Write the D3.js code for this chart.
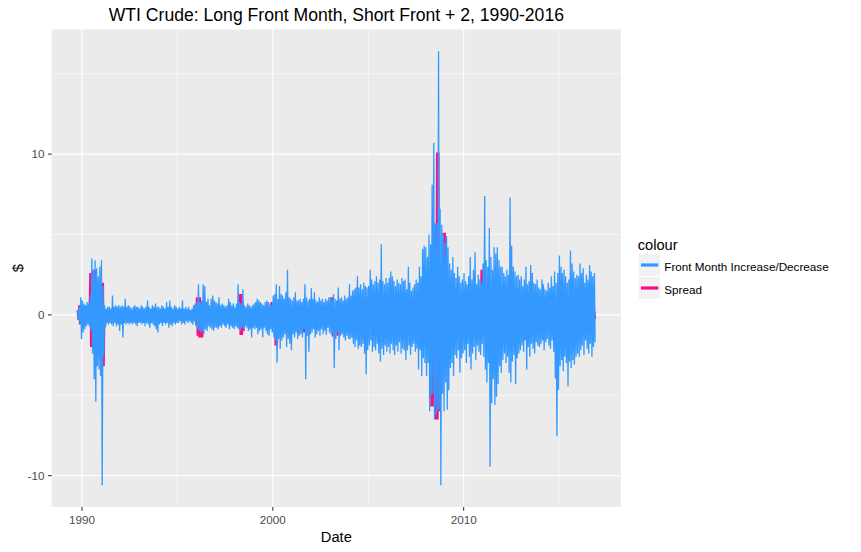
<!DOCTYPE html>
<html><head><meta charset="utf-8">
<script src="https://cdn.jsdelivr.net/npm/d3@7"></script>
<style>
body{margin:0;background:#fff}
svg{display:block}
text{font-family:"Liberation Sans",Arial,Helvetica,sans-serif}
</style>
</head><body>
<svg id="chart" width="861" height="552"></svg>
<script>
// ---------- data (monthly high / low of the daily series, $) ----------
const titleText = "WTI Crude: Long Front Month, Short Front + 2, 1990-2016";
const xTitle = "Date";
const yTitle = "$";
const legendTitle = "colour";
const seriesNames = ["Front Month Increase/Decrease", "Spread"];
const seriesColors = ["#3399FF", "#FF0A80"];
const xTickYears = [1990, 2000, 2010];
const xMinorYears = [1995, 2005, 2015];
const yTicks = [-10, 0, 10];
const yMinorTicks = [-5, 5, 15];
const firstMonth = new Date(1989, 9, 1);   // Oct 1989
const endMonth = new Date(2016, 11, 1);    // through Nov 2016

const frontHigh = [
  0.3, 0.5, 1.1,
  0.9, 0.7, 0.6, 0.8, 0.7, 1.2, 3.5, 2.8, 3.4, 2.9, 2.4, 3.0,
  3.4, 1.8, 0.6, 0.4, 0.5, 0.5, 0.4, 1.2, 0.5, 0.6, 0.5, 0.6,
  0.5, 0.6, 0.5, 1.0, 0.5, 0.6, 0.5, 0.4, 0.5, 0.6, 0.5, 0.5,
  0.4, 0.6, 0.5, 0.4, 0.5, 0.9, 0.5, 0.4, 0.6, 0.5, 0.7, 0.5,
  0.5, 0.4, 0.6, 0.5, 0.4, 0.8, 0.5, 0.9, 0.5, 0.4, 0.6, 0.5,
  0.4, 0.5, 0.4, 0.9, 0.4, 0.5, 0.4, 0.5, 0.3, 0.4, 0.6, 0.7,
  0.8, 1.9, 0.8, 0.9, 1.9, 1.8, 0.8, 1.0, 0.6, 1.0, 1.2, 0.9,
  0.8, 0.7, 1.1, 0.6, 0.7, 0.6, 0.5, 0.6, 1.0, 0.8, 0.6, 0.7,
  0.5, 0.7, 1.9, 0.8, 0.7, 1.6, 0.6, 0.5, 0.7, 0.6, 0.5, 0.6,
  0.7, 0.8, 1.0, 0.9, 0.8, 0.7, 0.6, 0.8, 0.9, 0.8, 0.7, 0.6,
  1.2, 1.3, 1.9, 1.0, 1.8, 1.3, 1.2, 1.0, 1.4, 2.8, 1.1, 1.0,
  0.9, 1.1, 1.4, 0.9, 0.9, 1.0, 0.8, 1.0, 1.9, 1.1, 0.9, 1.0,
  1.65, 1.0, 1.4, 0.9, 0.8, 1.1, 0.9, 1.0, 0.8, 1.0, 0.9, 1.1,
  1.1, 1.0, 1.3, 1.0, 0.9, 1.7, 1.0, 1.1, 0.9, 1.2, 1.0, 1.1,
  1.9, 1.2, 1.5, 1.6, 1.7, 2.4, 1.7, 1.9, 1.6, 2.0, 1.8, 1.7,
  1.8, 2.8, 2.2, 1.9, 2.1, 2.4, 2.0, 2.2, 4.4, 2.1, 1.9, 2.3,
  2.0, 2.3, 2.7, 2.4, 2.1, 1.8, 2.2, 2.0, 1.9, 2.3, 2.1, 2.2,
  1.6, 3.0, 2.0, 1.5, 1.7, 1.9, 2.2, 2.0, 3.0, 2.4, 4.1, 4.3,
  4.2, 3.6, 5.0, 4.4, 8.1, 10.7, 5.7, 5.7, 16.4, 6.6, 5.6, 5.0,
  4.5, 4.9, 4.2, 3.2, 2.8, 3.6, 2.6, 2.3, 3.0, 2.4, 2.0, 2.2,
  2.6, 2.1, 1.9, 2.4, 3.6, 2.2, 2.8, 3.9, 1.9, 2.5, 2.2, 2.0,
  3.2, 7.4, 3.4, 3.0, 5.4, 3.6, 2.8, 4.2, 3.8, 4.2, 3.4, 3.0,
  3.0, 2.6, 2.4, 2.8, 2.5, 7.3, 4.3, 3.0, 2.7, 2.4, 2.5, 2.2,
  2.4, 1.8, 2.2, 3.0, 1.9, 2.1, 3.1, 2.6, 2.0, 1.9, 2.2, 1.7,
  1.6, 2.2, 1.9, 1.6, 1.5, 2.0, 1.7, 2.4, 1.8, 2.7, 2.0, 2.6,
  3.7, 3.0, 2.6, 2.8, 2.4, 2.0, 2.2, 4.0, 3.2, 2.7, 2.3, 2.5,
  2.4, 3.2, 2.6, 2.9, 2.0, 2.5, 2.2, 3.1, 2.7, 2.4, 2.6
];
const frontLow = [
  -0.3, -0.5, -1.5,
  -1.1, -0.9, -0.7, -0.6, -0.7, -1.0, -2.4, -4.0, -5.4, -3.2, -3.4, -3.8,
  -10.6, -2.5, -0.8, -0.5, -0.6, -0.5, -0.6, -0.7, -0.5, -0.7, -0.6, -1.0,
  -0.6, -1.4, -0.5, -0.6, -0.5, -0.6, -0.5, -0.6, -0.5, -0.6, -0.7, -0.5,
  -0.5, -0.6, -0.5, -0.7, -0.5, -0.6, -0.8, -0.5, -0.6, -0.7, -0.9, -1.1,
  -0.6, -0.5, -0.7, -0.5, -0.6, -0.5, -0.8, -0.6, -0.7, -0.5, -0.6, -0.5,
  -0.5, -0.4, -0.6, -0.5, -0.6, -0.4, -0.5, -0.4, -0.5, -0.6, -0.4, -0.7,
  -0.9, -1.0, -1.1, -1.0, -1.2, -0.9, -1.0, -0.7, -0.8, -0.9, -1.0, -0.8,
  -0.8, -0.9, -0.7, -0.8, -0.6, -0.7, -0.8, -0.6, -0.9, -0.7, -0.8, -0.9,
  -0.7, -0.8, -0.9, -1.0, -0.8, -0.9, -0.7, -0.8, -1.0, -0.9, -1.4, -0.8,
  -0.9, -0.8, -1.2, -1.0, -0.9, -1.4, -0.8, -1.0, -1.2, -1.3, -0.9, -1.1,
  -1.4, -1.6, -2.96, -1.5, -2.1, -1.6, -1.4, -1.2, -2.0, -1.5, -1.8, -2.2,
  -1.2, -1.4, -1.1, -1.5, -1.3, -1.2, -1.4, -0.9, -4.0, -1.3, -2.3, -1.2,
  -1.1, -0.9, -1.4, -1.2, -1.0, -1.3, -0.9, -1.2, -1.0, -1.25, -0.8, -1.1,
  -1.2, -1.2, -3.3, -1.5, -1.1, -2.2, -1.3, -1.2, -1.4, -1.6, -1.3, -1.5,
  -1.5, -1.4, -1.8, -2.0, -1.6, -2.1, -1.9, -2.0, -1.8, -2.4, -3.7, -2.2,
  -1.9, -1.6, -2.3, -2.0, -2.2, -1.8, -2.4, -2.9, -2.1, -2.5, -1.9, -2.3,
  -2.0, -2.4, -1.8, -2.2, -2.5, -1.9, -2.3, -1.7, -2.4, -2.1, -2.2, -2.8,
  -2.2, -1.9, -2.5, -2.0, -1.8, -2.3, -2.1, -3.4, -2.2, -3.8, -2.7, -3.0,
  -3.8, -3.0, -6.0, -5.0, -4.9, -6.5, -6.2, -6.0, -5.9, -10.6, -4.9, -6.0,
  -4.2, -5.9, -4.7, -3.3, -3.0, -3.8, -2.5, -2.7, -2.2, -3.6, -2.7, -2.4,
  -2.2, -3.0, -1.8, -2.6, -3.4, -2.4, -2.0, -2.8, -1.9, -2.3, -2.5, -1.8,
  -2.6, -3.4, -4.2, -3.0, -9.45, -5.5, -4.0, -5.6, -5.1, -4.3, -3.2, -3.6,
  -2.8, -2.4, -3.0, -2.6, -3.6, -4.2, -2.9, -2.5, -4.3, -2.7, -2.4, -2.2,
  -1.9, -2.3, -1.6, -3.4, -2.0, -2.6, -1.8, -2.1, -2.4, -1.7, -1.9, -2.0,
  -1.8, -1.6, -2.2, -1.7, -1.5, -1.9, -2.1, -1.6, -2.3, -3.95, -7.55, -4.65,
  -3.2, -2.8, -3.5, -2.6, -3.0, -4.45, -2.9, -3.3, -2.8, -3.1, -2.6, -2.4,
  -2.6, -2.2, -1.9, -2.5, -1.6, -2.1, -2.4, -1.8, -2.6, -2.0, -1.7
];
const spreadHigh = [
  0.3, 0.6, 0.3,
  0.2, 0.2, 0.2, 0.2, 0.2, 2.6, 2.6, 2.8, 2.8, 2.2, 1.5, 1.8,
  2.0, 2.0, 0.3, 0.2, 0.2, 0.2, 0.2, 0.2, 0.2, 0.2, 0.2, 0.2,
  0.2, 0.2, 0.2, 0.2, 0.2, 0.2, 0.2, 0.2, 0.2, 0.2, 0.2, 0.2,
  0.2, 0.2, 0.2, 0.2, 0.2, 0.2, 0.2, 0.2, 0.2, 0.2, 0.2, 0.2,
  0.2, 0.2, 0.2, 0.2, 0.2, 0.2, 0.2, 0.2, 0.2, 0.2, 0.2, 0.2,
  0.2, 0.2, 0.2, 0.2, 0.2, 0.2, 0.2, 0.2, 0.2, 0.2, 0.2, 0.6,
  1.1, 1.1, 1.1, 0.6, 0.2, 0.2, 0.8, 0.2, 0.2, 0.2, 0.2, 0.2,
  0.2, 0.2, 0.2, 0.2, 0.2, 0.2, 0.2, 0.2, 0.2, 0.2, 0.2, 0.2,
  0.2, 0.2, 0.2, 1.3, 1.3, 0.8, 0.2, 0.2, 0.2, 0.2, 0.2, 0.2,
  0.2, 0.2, 0.2, 0.2, 0.2, 0.2, 0.2, 0.2, 0.2, 0.2, 0.2, 0.8,
  0.3, 0.3, 0.3, 0.2, 0.2, 0.2, 0.2, 0.2, 0.2, 0.2, 0.2, 0.2,
  0.2, 0.2, 0.2, 0.2, 0.2, 0.2, 0.2, 0.2, 0.2, 0.2, 0.2, 0.2,
  0.2, 0.2, 0.2, 0.2, 0.2, 0.2, 0.2, 0.2, 0.2, 0.2, 0.2, 0.2,
  0.2, 1.1, 0.2, 0.2, 0.2, 0.2, 0.2, 0.2, 0.2, 0.2, 0.2, 0.2,
  0.3, 0.3, 0.3, 0.3, 0.3, 0.3, 0.3, 0.3, 0.3, 0.3, 0.3, 0.3,
  0.3, 0.3, 0.3, 0.3, 0.3, 0.3, 0.3, 0.3, 0.3, 0.3, 0.3, 0.3,
  0.3, 0.3, 0.3, 0.3, 0.3, 0.3, 0.3, 0.3, 0.3, 0.3, 0.3, 0.3,
  0.3, 0.3, 0.3, 0.3, 0.3, 0.3, 0.3, 0.3, 0.3, 0.3, 0.3, 0.3,
  0.3, 0.3, 0.3, 0.3, 0.5, 0.5, 0.5, 10.1, 10.1, 3.0, 2.0, 5.1,
  5.1, 0.5, 0.3, 0.3, 0.3, 0.3, 0.3, 0.3, 0.3, 0.3, 0.3, 0.3,
  0.3, 0.3, 0.3, 0.3, 0.3, 0.3, 0.3, 0.3, 0.3, 0.3, 0.3, 2.8,
  2.8, 0.3, 0.3, 0.3, 0.3, 0.3, 0.3, 0.3, 0.3, 0.3, 0.3, 0.3,
  0.3, 0.3, 0.3, 0.3, 0.3, 0.3, 0.3, 0.3, 0.3, 0.3, 0.3, 0.3,
  0.3, 0.3, 0.3, 0.3, 0.3, 0.3, 0.3, 0.3, 0.3, 0.3, 0.3, 0.3,
  0.3, 0.3, 0.3, 0.3, 0.3, 0.3, 0.3, 0.3, 0.3, 0.3, 0.3, 0.3,
  0.3, 0.3, 0.3, 0.3, 0.3, 0.3, 0.3, 0.3, 0.3, 0.3, 0.3, 0.3,
  0.3, 0.3, 0.3, 0.3, 0.3, 0.3, 0.3, 0.3, 0.3, 0.3, 0.25
];
const spreadLow = [
  -0.3, -0.6, -0.3,
  -0.2, -0.2, -0.2, -0.2, -0.2, -2.0, -2.0, -1.8, -2.0, -2.6, -2.4, -2.6,
  -3.2, -3.2, -0.7, -0.2, -0.2, -0.2, -0.2, -0.2, -0.2, -0.2, -0.2, -0.2,
  -0.2, -0.2, -0.2, -0.2, -0.2, -0.2, -0.2, -0.2, -0.2, -0.2, -0.2, -0.2,
  -0.2, -0.2, -0.2, -0.2, -0.2, -0.2, -0.2, -0.2, -0.2, -0.2, -0.2, -0.2,
  -0.2, -0.2, -0.2, -0.2, -0.2, -0.2, -0.2, -0.2, -0.2, -0.2, -0.2, -0.2,
  -0.2, -0.2, -0.2, -0.2, -0.2, -0.2, -0.2, -0.2, -0.2, -0.2, -0.2, -0.6,
  -1.3, -1.4, -1.4, -1.4, -0.2, -0.2, -0.5, -0.2, -0.2, -0.2, -0.2, -0.2,
  -0.2, -0.2, -0.2, -0.2, -0.2, -0.2, -0.2, -0.2, -0.2, -0.2, -0.2, -0.2,
  -0.2, -0.2, -0.2, -1.25, -1.25, -1.0, -0.2, -0.2, -0.2, -0.2, -0.2, -0.2,
  -0.2, -0.2, -0.2, -0.2, -0.2, -0.2, -0.2, -0.2, -0.2, -0.2, -0.2, -0.3,
  -0.2, -1.9, -1.9, -0.2, -0.2, -0.2, -0.2, -0.2, -0.2, -0.2, -0.2, -0.2,
  -0.2, -0.2, -0.2, -0.2, -0.2, -0.2, -0.2, -1.1, -0.2, -0.2, -0.2, -0.2,
  -0.2, -0.2, -0.7, -0.2, -0.2, -0.2, -0.2, -0.2, -0.2, -0.2, -0.2, -0.2,
  -0.2, -1.35, -0.2, -0.2, -1.3, -0.2, -0.2, -0.2, -0.2, -0.2, -0.2, -0.2,
  -0.3, -0.3, -0.3, -0.3, -0.3, -0.3, -0.3, -0.3, -0.3, -0.3, -0.3, -0.3,
  -0.3, -0.3, -0.3, -0.3, -0.3, -0.3, -0.3, -0.3, -0.3, -0.3, -0.3, -0.3,
  -0.3, -0.3, -0.3, -0.3, -0.3, -0.3, -0.3, -0.3, -0.3, -0.3, -0.3, -0.3,
  -0.3, -0.3, -0.3, -0.3, -0.3, -0.3, -0.3, -0.3, -0.3, -0.3, -0.3, -0.3,
  -0.5, -0.5, -2.0, -5.7, -5.7, -5.0, -6.5, -6.5, -6.0, -2.0, -1.0, -1.0,
  -1.0, -0.5, -0.3, -0.3, -0.3, -0.3, -0.3, -0.3, -0.3, -0.3, -0.3, -0.3,
  -0.3, -0.3, -0.3, -0.3, -0.3, -0.3, -0.3, -0.3, -0.3, -0.3, -0.3, -0.3,
  -0.3, -0.3, -0.3, -0.3, -0.3, -0.3, -0.3, -0.3, -0.3, -0.3, -0.3, -0.3,
  -0.3, -0.3, -0.3, -0.3, -0.3, -0.3, -0.3, -0.3, -0.3, -0.3, -0.3, -0.3,
  -0.3, -0.3, -0.3, -0.3, -0.3, -0.3, -0.3, -0.3, -0.3, -0.3, -0.3, -0.3,
  -0.3, -0.3, -0.3, -0.3, -0.3, -0.3, -0.3, -0.3, -0.3, -0.3, -0.3, -0.3,
  -0.3, -0.3, -0.3, -0.3, -0.3, -0.3, -0.3, -0.3, -0.3, -0.3, -0.3, -0.3,
  -0.3, -0.3, -0.3, -0.3, -0.3, -0.3, -0.3, -0.3, -0.3, -0.3, -0.25
];

// ---------- layout ----------
const panel = {left: 51.7, right: 621, top: 29.5, bottom: 507};
const svg = d3.select("#chart");

const months = d3.timeMonth.range(firstMonth, endMonth);
function zigzag(hi, lo) {
  const pts = [];
  months.forEach((m, i) => {
    pts.push({date: d3.timeDay.offset(m, 7), v: hi[i]});
    pts.push({date: d3.timeDay.offset(m, 21), v: lo[i]});
  });
  return pts;
}
const frontPts = zigzag(frontHigh, frontLow);
const spreadPts = zigzag(spreadHigh, spreadLow);
const allPts = frontPts.concat(spreadPts);

// ggplot-style 5% expansion
const xExt = d3.extent(allPts, d => +d.date);
const xPad = (xExt[1] - xExt[0]) * 0.05;
const x = d3.scaleTime().domain([new Date(xExt[0] - xPad), new Date(xExt[1] + xPad)])
  .range([panel.left, panel.right]);
const yExt = d3.extent(allPts, d => d.v);
const yPad = (yExt[1] - yExt[0]) * 0.05;
const y = d3.scaleLinear().domain([yExt[0] - yPad, yExt[1] + yPad])
  .range([panel.bottom, panel.top]);

// panel
svg.append("rect").attr("x", panel.left).attr("y", panel.top)
  .attr("width", panel.right - panel.left).attr("height", panel.bottom - panel.top)
  .attr("fill", "#EBEBEB");

const grid = svg.append("g");
const yearDate = yr => new Date(yr, 0, 1);
grid.selectAll(".xmin").data(xMinorYears).join("line")
  .attr("x1", d => x(yearDate(d))).attr("x2", d => x(yearDate(d)))
  .attr("y1", panel.top).attr("y2", panel.bottom)
  .attr("stroke", "#fff").attr("stroke-width", 0.55);
grid.selectAll(".ymin").data(yMinorTicks).join("line")
  .attr("y1", d => y(d)).attr("y2", d => y(d))
  .attr("x1", panel.left).attr("x2", panel.right)
  .attr("stroke", "#fff").attr("stroke-width", 0.55);
grid.selectAll(".xmaj").data(xTickYears).join("line")
  .attr("x1", d => x(yearDate(d))).attr("x2", d => x(yearDate(d)))
  .attr("y1", panel.top).attr("y2", panel.bottom)
  .attr("stroke", "#fff").attr("stroke-width", 1.1);
grid.selectAll(".ymaj").data(yTicks).join("line")
  .attr("y1", d => y(d)).attr("y2", d => y(d))
  .attr("x1", panel.left).attr("x2", panel.right)
  .attr("stroke", "#fff").attr("stroke-width", 1.1);

// series
const line = d3.line().x(d => x(d.date)).y(d => y(d.v));
svg.append("clipPath").attr("id", "pc").append("rect")
  .attr("x", panel.left).attr("y", panel.top)
  .attr("width", panel.right - panel.left).attr("height", panel.bottom - panel.top);
const plot = svg.append("g").attr("clip-path", "url(#pc)");
plot.append("path").attr("d", line(spreadPts)).attr("fill", "none")
  .attr("stroke", seriesColors[1]).attr("stroke-width", 2.0)
  .attr("stroke-linejoin", "miter").attr("stroke-miterlimit", 1.5);
plot.append("path").attr("d", line(frontPts)).attr("fill", "none")
  .attr("stroke", seriesColors[0]).attr("stroke-width", 1.3)
  .attr("stroke-linejoin", "miter").attr("stroke-miterlimit", 1.5);

// axes
const axisCol = "#333333", labCol = "#4D4D4D";
const yAxis = svg.append("g");
yTicks.forEach(t => {
  yAxis.append("line").attr("x1", panel.left - 3.7).attr("x2", panel.left)
    .attr("y1", y(t)).attr("y2", y(t)).attr("stroke", axisCol).attr("stroke-width", 1.07);
  yAxis.append("text").attr("x", panel.left - 7.3).attr("y", y(t) + 4.2)
    .attr("text-anchor", "end").attr("font-size", "11.7px").attr("fill", labCol).text(t);
});
const xAxis = svg.append("g");
xTickYears.forEach(t => {
  const px = x(yearDate(t));
  xAxis.append("line").attr("x1", px).attr("x2", px)
    .attr("y1", panel.bottom).attr("y2", panel.bottom + 3.7)
    .attr("stroke", axisCol).attr("stroke-width", 1.07);
  xAxis.append("text").attr("x", px).attr("y", panel.bottom + 17)
    .attr("text-anchor", "middle").attr("font-size", "11.7px").attr("fill", labCol).text(t);
});
const cx = (panel.left + panel.right) / 2;
svg.append("text").attr("x", cx).attr("y", 541.7).attr("text-anchor", "middle")
  .attr("font-size", "14.67px").attr("fill", "#000").text(xTitle);
svg.append("text").attr("transform", `translate(22.5,${(panel.top + panel.bottom) / 2}) rotate(-90)`)
  .attr("text-anchor", "middle").attr("font-size", "14.67px").attr("fill", "#000").text(yTitle);
svg.append("text").attr("x", cx).attr("y", 21).attr("text-anchor", "middle")
  .attr("font-size", "17.6px").attr("fill", "#000").text(titleText);

// legend
const lg = svg.append("g");
lg.append("text").attr("x", 637.7).attr("y", 250).attr("font-size", "14.67px")
  .attr("fill", "#000").text(legendTitle);
seriesNames.forEach((name, i) => {
  const ky = 253.5 + i * 23;
  lg.append("rect").attr("x", 638.3).attr("y", ky).attr("width", 22.5).attr("height", 23)
    .attr("fill", "#F2F2F2").attr("stroke", "#fff").attr("stroke-width", 1);
  lg.append("line").attr("x1", 641).attr("x2", 658.3)
    .attr("y1", ky + 11.5).attr("y2", ky + 11.5)
    .attr("stroke", seriesColors[i]).attr("stroke-width", 3.2);
  lg.append("text").attr("x", 664.3).attr("y", ky + 17).attr("font-size", "11.7px")
    .attr("fill", "#000").text(name);
});
</script>
</body></html>
